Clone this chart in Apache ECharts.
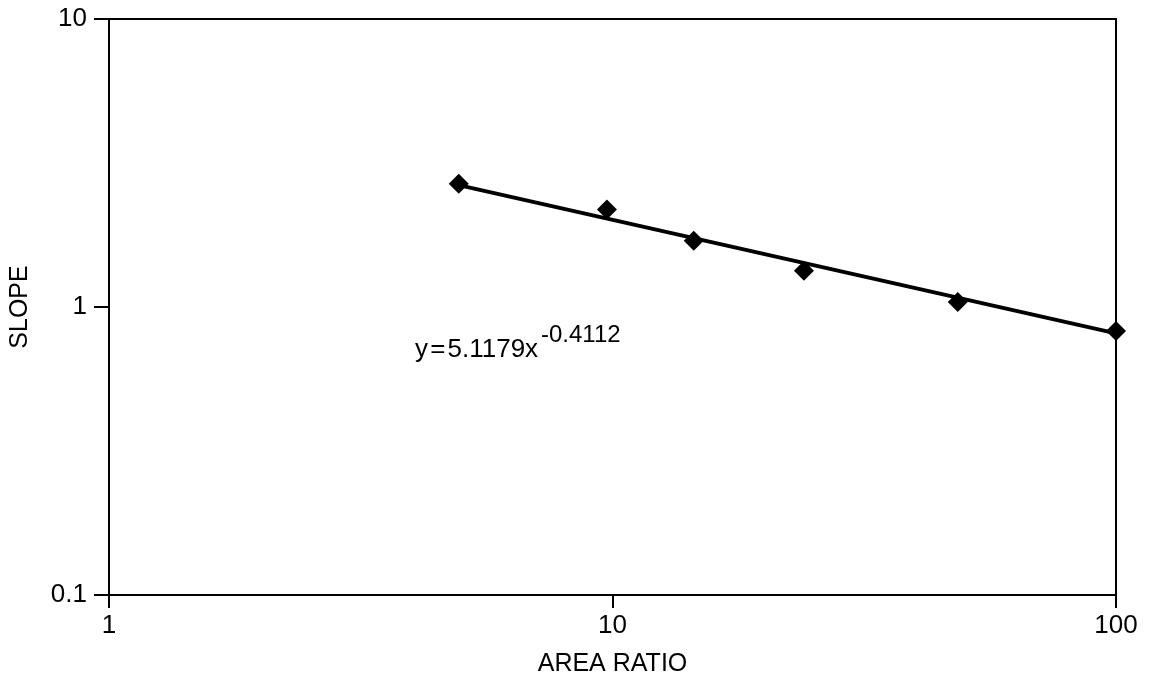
<!DOCTYPE html>
<html>
<head>
<meta charset="utf-8">
<script src="https://cdn.jsdelivr.net/npm/echarts@6/dist/echarts.min.js"></script>
<style>
html,body{margin:0;padding:0;background:#fff;}
#chart{width:1149px;height:683px;}
</style>
</head>
<body>
<div id="chart"></div>
<script>
// Data
const areaRatio = [4.95, 9.75, 14.5, 24, 48.5, 100];
const slope = [2.68, 2.18, 1.70, 1.335, 1.04, 0.825];
// Power-law trend line end points (as drawn)
const trendX = [4.95, 100];
const trendY = [2.65, 0.81];
const xTicks = [1, 10, 100];
const yTicks = [0.1, 1, 10];
const equationMain = 'y\u200A=\u200A5.1179x';
const equationExp = '-0.4112';

const FONT = '"Liberation Sans Narrow", "Arial Narrow", "Liberation Sans", Arial, sans-serif';
const chart = echarts.init(document.getElementById('chart'));
chart.setOption({
  animation: false,
  backgroundColor: '#fff',
  grid: {left: 109, right: 33, top: 19, bottom: 88, show: true, borderColor: '#000', borderWidth: 2, backgroundColor: 'transparent'},
  xAxis: {
    type: 'log', logBase: 10, min: xTicks[0], max: xTicks[xTicks.length - 1],
    name: 'AREA RATIO', nameLocation: 'middle', nameGap: 57,
    nameTextStyle: {fontFamily: FONT, fontSize: 25, color: '#000'},
    axisLine: {show: true, lineStyle: {color: '#000', width: 2}},
    axisTick: {show: true, length: 13, lineStyle: {color: '#000', width: 2}},
    minorTick: {show: false},
    splitLine: {show: false},
    axisLabel: {fontFamily: FONT, fontSize: 26, color: '#000', margin: 18, formatter: v => String(v)}
  },
  yAxis: {
    type: 'log', logBase: 10, min: yTicks[0], max: yTicks[yTicks.length - 1],
    name: 'SLOPE', nameLocation: 'middle', nameGap: 76, nameRotate: 90,
    nameTextStyle: {fontFamily: FONT, fontSize: 25, color: '#000'},
    axisLine: {show: true, lineStyle: {color: '#000', width: 2}},
    axisTick: {show: true, length: 15, lineStyle: {color: '#000', width: 2}},
    splitLine: {show: false},
    axisLabel: {fontFamily: FONT, fontSize: 26, color: '#000', margin: 22,
      formatter: v => (Math.abs(v - 0.1) < 1e-9 ? '0.1' : String(Math.round(v)))}
  },
  series: [
    {
      type: 'line', data: trendX.map((x, i) => [x, trendY[i]]),
      symbol: 'none', lineStyle: {color: '#000', width: 4}, z: 2
    },
    {
      type: 'scatter', data: areaRatio.map((x, i) => [x, slope[i]]),
      symbol: 'diamond', symbolSize: 20, itemStyle: {color: '#000', opacity: 1}, z: 3
    }
  ],
  graphic: [
    {
      type: 'text', left: 415, top: 337,
      style: {text: equationMain, fontFamily: FONT, fontSize: 26, fill: '#000'}
    },
    {
      type: 'text', left: 541, top: 323,
      style: {text: equationExp, fontFamily: FONT, fontSize: 24, fill: '#000'}
    }
  ]
});
</script>
</body>
</html>
